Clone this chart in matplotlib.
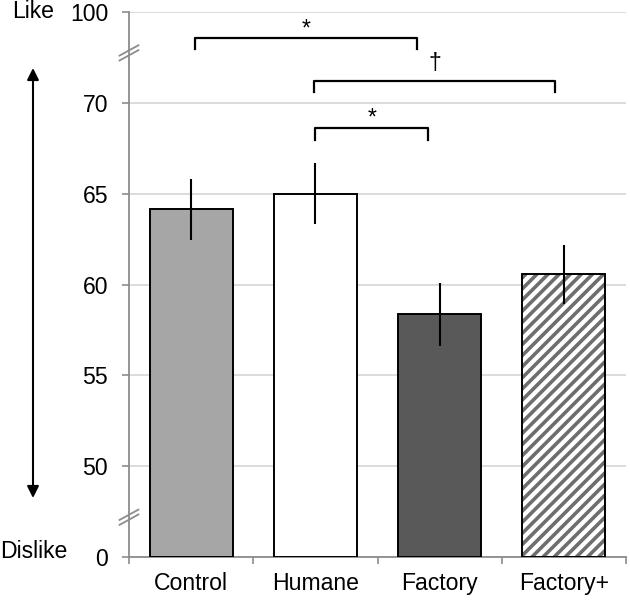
import numpy as np
import matplotlib
matplotlib.use("Agg")
import matplotlib.pyplot as plt
from matplotlib.patches import FancyArrowPatch
from matplotlib.lines import Line2D

plt.rcParams['font.family'] = ['Liberation Sans', 'DejaVu Sans']
plt.rcParams['hatch.linewidth'] = 2.6

categories = ["Control", "Humane", "Factory", "Factory+"]
means = [64.14, 65.0, 58.35, 60.56]
errors = [1.68, 1.67, 1.76, 1.63]
ytick_values = [0, 50, 55, 60, 65, 70, 100]
ytick_labels = ["0", "50", "55", "60", "65", "70", "100"]
fill_colors = ["#a6a6a6", "#ffffff", "#595959", "#ffffff"]
hatches = [None, None, None, "///"]

FS = 16.6

# broken axis: real value -> display value
real_pts = [0, 50, 70, 100]
disp_pts = [45, 50, 70, 75]
fwd = lambda v: np.interp(v, real_pts, disp_pts)
inv = lambda d: np.interp(d, disp_pts, real_pts)

fig = plt.figure(figsize=(6.3, 6.0), dpi=100)
ax = fig.add_axes([129/630, 43/600, 497/630, 545/600])
ax.set_yscale('function', functions=(fwd, inv))
ax.set_ylim(0, 100)
ax.set_xlim(-0.5, 3.5)

x = np.arange(len(categories))
width = 0.67
for i in range(len(categories)):
    if hatches[i]:
        ax.bar(x[i], means[i], width, bottom=0, color="white", edgecolor="#6e6e6e",
               hatch=hatches[i], linewidth=0, zorder=2)
        ax.bar(x[i], means[i], width, bottom=0, color="none", edgecolor="black",
               linewidth=1.4, zorder=3)
    else:
        ax.bar(x[i], means[i], width, bottom=0, color=fill_colors[i], edgecolor="black",
               linewidth=1.4, zorder=3)
ax.errorbar(x, means, yerr=errors, fmt='none', ecolor='black', elinewidth=1.5,
            capsize=0, zorder=4)

ax.set_yticks(ytick_values)
ax.set_yticklabels(ytick_labels, fontsize=FS)
ax.yaxis.grid(True, color="#d9d9d9", linewidth=1.3, zorder=0)
ax.set_axisbelow(True)
ax.tick_params(axis='y', length=5, width=1.2, color="#8c8c8c", pad=10)

ax.set_xticks(x)
ax.set_xticklabels(categories, fontsize=FS)
ax.set_xticks([-0.5, 0.5, 1.5, 2.5, 3.5], minor=True)
ax.tick_params(axis='x', which='major', length=0, pad=11)
ax.tick_params(axis='x', which='minor', length=5, width=1.2, color="#8c8c8c")

for s in ['top', 'right']:
    ax.spines[s].set_visible(False)
for s in ['left', 'bottom']:
    ax.spines[s].set_color("#8c8c8c")
    ax.spines[s].set_linewidth(1.3)

# axis break marks
for yb in [0.925, 0.073]:
    for dy in [-0.0045, 0.0045]:
        ax.add_line(Line2D([-0.019, 0.019], [yb + dy - 0.0095, yb + dy + 0.0095],
                           transform=ax.transAxes, color="#8c8c8c", linewidth=1.3,
                           clip_on=False, zorder=5))

# significance brackets (x in data units, y in axes fraction)
tr = ax.get_xaxis_transform()
brackets = [(0.03, 1.82, 0.952, 0.933, "*", 0.956, FS),
            (0.99, 2.93, 0.874, 0.854, "\u2020", 0.893, FS),
            (1.00, 1.91, 0.787, 0.765, "*", 0.793, FS)]
for x0, x1, yl, yt, lab, yt_lab, fs in brackets:
    ax.plot([x0, x0, x1, x1], [yt, yl, yl, yt], transform=tr, color="black",
            linewidth=1.6, clip_on=False, solid_joinstyle='round', zorder=5)
    ax.text((x0 + x1) / 2, yt_lab, lab, transform=tr, ha='center', va='baseline',
            fontsize=fs)

# Like / Dislike labels and arrow
fig.text(12/630, 1 - 12/600, "Like", fontsize=FS, ha='left', va='center')
fig.text(0/630, 1 - 552/600, "Dislike", fontsize=FS, ha='left', va='center')
arrow = FancyArrowPatch((33/630, 1 - 68/600), (33/630, 1 - 498/600),
                        transform=fig.transFigure, arrowstyle='<|-|>,head_length=7,head_width=3.5',
                        color='black', linewidth=1.5, shrinkA=0, shrinkB=0)
fig.patches.append(arrow)

fig.savefig("out.png", dpi=100)
